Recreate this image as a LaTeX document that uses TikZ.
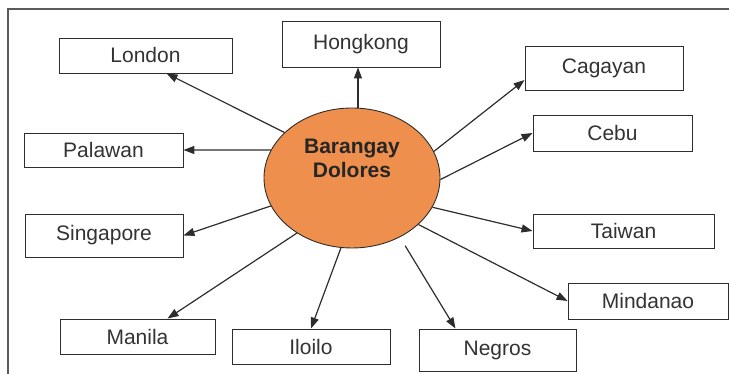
\documentclass[tikz,border=0pt]{standalone}
\usepackage{fontspec}
\setmainfont{Liberation Sans}
\usetikzlibrary{shapes.geometric,arrows.meta,positioning,calc}
\definecolor{hubcolor}{RGB}{238,143,77}
\definecolor{linecolor}{RGB}{45,45,45}
\definecolor{framecolor}{RGB}{90,90,90}

\begin{document}
\begin{tikzpicture}[
    x=1pt, y=1pt,
    place/.style={rectangle, draw=linecolor, line width=0.9pt, fill=white, inner sep=0pt, font=\fontsize{21}{25}\selectfont, text=black!80},
    hubnode/.style={ellipse, draw=linecolor, line width=0.9pt, fill=hubcolor, minimum width=176pt, minimum height=140pt, inner sep=0pt, align=center, font=\fontsize{21}{25}\selectfont\bfseries, text=black!85},
    arrow/.style={-{Triangle[length=11pt,width=8pt]}, line width=1.2pt, draw=linecolor}
]
\useasboundingbox (0,0) rectangle (729,374);

% Frame
\draw[framecolor, line width=1.5pt] (729,365) -- (8,365) -- (8,0);

% Hub
\node[hubnode] (hub) at (352,196) {\raisebox{0pt}[0pt][0pt]{\shortstack{Barangay\\[2pt]Dolores}}};

% Destinations
\node[place, minimum width=173pt, minimum height=35pt] (london) at (145.5,318.5) {London};
\node[place, minimum width=158pt, minimum height=46pt] (hongkong) at (361,330) {Hongkong};
\node[place, minimum width=158pt, minimum height=44pt] (cagayan) at (604,306) {Cagayan};
\node[place, minimum width=159pt, minimum height=36pt] (cebu) at (612.5,241) {Cebu};
\node[place, minimum width=159pt, minimum height=34pt] (palawan) at (103.5,224) {Palawan};
\node[place, minimum width=158pt, minimum height=43pt] (singapore) at (104,138.5) {Singapore};
\node[place, minimum width=181pt, minimum height=34pt] (taiwan) at (623.5,143) {Taiwan};
\node[place, minimum width=160pt, minimum height=36pt] (mindanao) at (648,73) {Mindanao};
\node[place, minimum width=155pt, minimum height=35pt] (manila) at (137.5,37.5) {Manila};
\node[place, minimum width=158pt, minimum height=35pt] (iloilo) at (311,27.5) {Iloilo};
\node[place, minimum width=157pt, minimum height=42pt] (negros) at (497.5,24) {Negros};

% Arrows
\draw[arrow] (hub.146) -- ([xshift=21pt]london.south);
\draw[arrow] ([xshift=-3pt]hongkong.south |- hub.north) -- ([xshift=-3pt]hongkong.south);
\draw[arrow] (hub.18) -- ([yshift=-12pt]cagayan.west);
\draw[arrow] (hub.-1) -- (cebu.west);
\draw[arrow] (hub.161) -- (palawan.east);
\draw[arrow] (hub.199) -- (singapore.east);
\draw[arrow] (hub.-20) -- (taiwan.west);
\draw[arrow] (hub.-35) -- (mindanao.west);
\draw[arrow] (hub.225) -- ([xshift=30pt]manila.north);
\draw[arrow] (hub.261) -- (iloilo.north);
\draw[arrow, shorten <=10pt] (hub.-51) -- ([xshift=-42pt]negros.north);

\end{tikzpicture}
\end{document}
